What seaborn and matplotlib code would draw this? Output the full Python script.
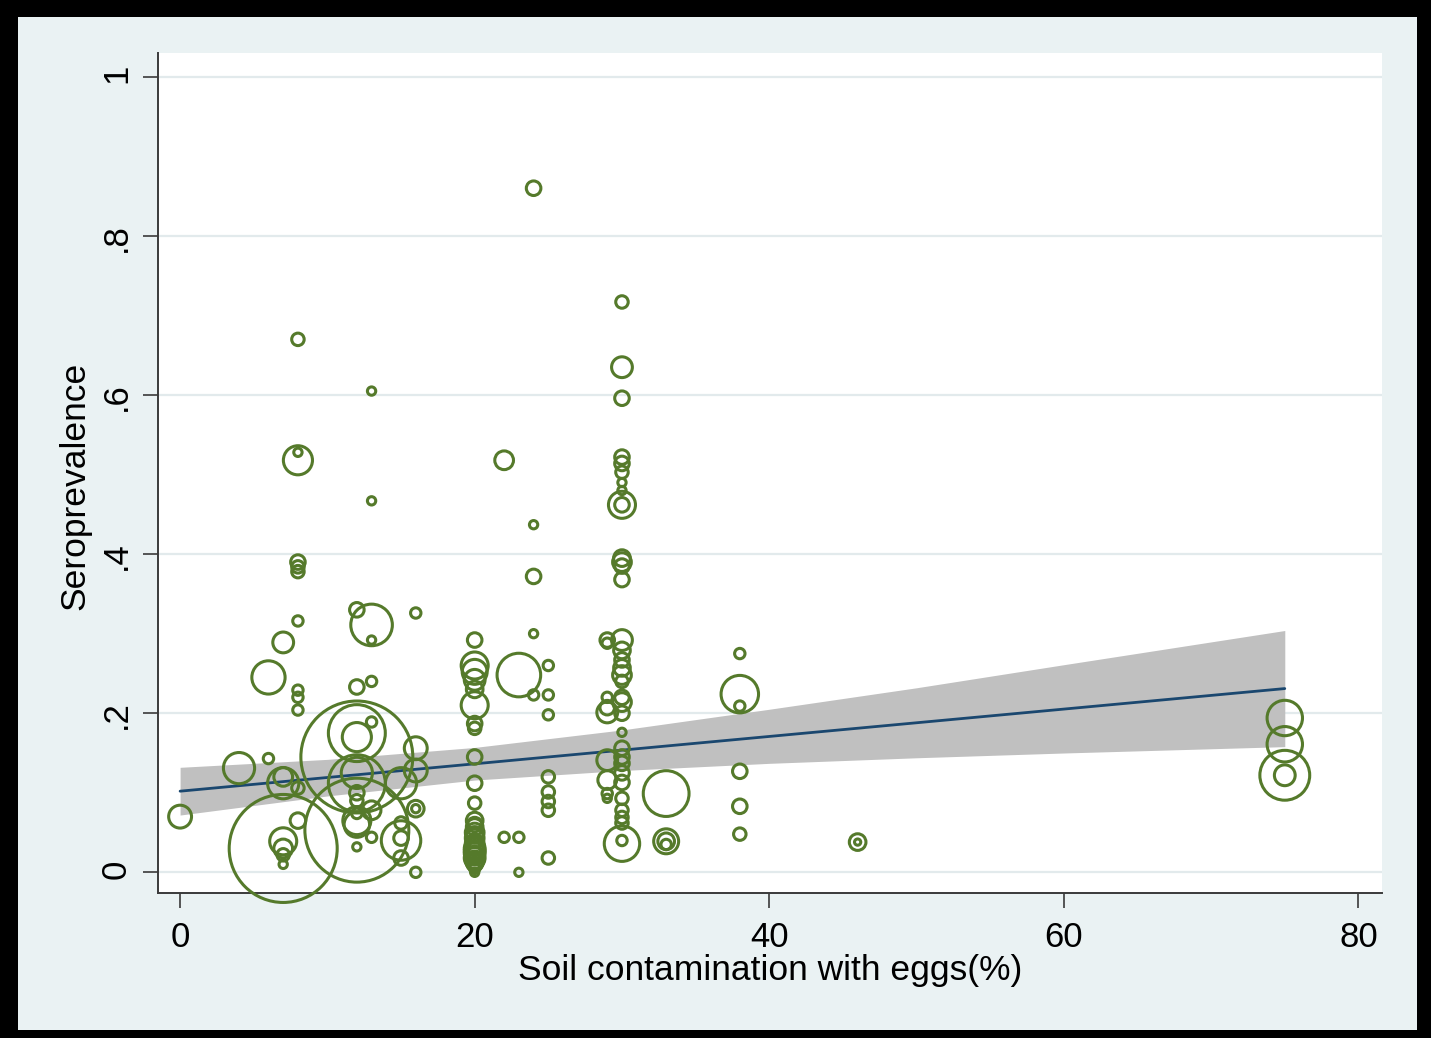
import matplotlib.pyplot as plt
import seaborn as sns
from matplotlib.patches import Rectangle

GREEN = "#557A2B"
NAVY = "#1A476F"
BAND = "#C0C0C0"
BG = "#EAF2F3"
GRID = "#E2EAEC"
AXIS = "#3A3A3A"

# one entry per village: soil contamination (%), seroprevalence, number tested (bubble weight)
soil_pct = [
    0, 4, 6, 6,
    7, 7, 7, 7, 7, 7, 7, 7,
    8, 8, 8, 8, 8, 8, 8, 8, 8, 8, 8, 8,
    12, 12, 12, 12, 12, 12, 12, 12, 12, 12, 12, 12, 12, 12,
    13, 13, 13, 13, 13, 13, 13, 13,
    15, 15, 15, 15, 15,
    16, 16, 16, 16, 16, 16,
    20, 20, 20, 20, 20, 20, 20, 20, 20, 20, 20, 20, 20, 20, 20, 20, 20, 20, 20, 20, 20, 20, 20,
    20, 20, 20, 20, 20, 20,
    22, 22, 23, 23, 23,
    24, 24, 24, 24, 24,
    25, 25, 25, 25, 25, 25, 25, 25,
    29, 29, 29, 29, 29, 29, 29, 29, 29,
    30, 30, 30, 30, 30, 30, 30, 30, 30, 30, 30, 30, 30, 30, 30, 30, 30, 30,
    30, 30, 30, 30, 30, 30, 30, 30, 30, 30, 30, 30, 30, 30, 30, 30, 30,
    33, 33, 33, 33,
    38, 38, 38, 38, 38, 38,
    46, 46,
    75, 75, 75, 75,
]
seroprev = [
    0.070, 0.131, 0.245, 0.143,
    0.289, 0.120, 0.112, 0.030, 0.039, 0.030, 0.022, 0.010,
    0.670, 0.518, 0.528, 0.390, 0.384, 0.378, 0.316, 0.229, 0.220, 0.204, 0.106, 0.065,
    0.330, 0.233, 0.175, 0.170, 0.145, 0.125, 0.112, 0.100, 0.090, 0.074, 0.065, 0.053, 0.032, 0.060,
    0.605, 0.467, 0.311, 0.292, 0.240, 0.189, 0.078, 0.044,
    0.112, 0.062, 0.040, 0.043, 0.018,
    0.326, 0.156, 0.128, 0.080, 0.080, 0.000,
    0.292, 0.260, 0.252, 0.242, 0.230, 0.210, 0.187, 0.181, 0.145, 0.112, 0.087, 0.065,
    0.057, 0.050, 0.043, 0.036, 0.030, 0.024, 0.018, 0.015, 0.010, 0.005, 0.000,
    0.060, 0.047, 0.033, 0.027, 0.021, 0.012,
    0.518, 0.044, 0.248, 0.044, 0.000,
    0.860, 0.437, 0.372, 0.300, 0.223,
    0.260, 0.223, 0.198, 0.120, 0.101, 0.089, 0.078, 0.018,
    0.292, 0.288, 0.220, 0.207, 0.201, 0.141, 0.116, 0.099, 0.093,
    0.717, 0.635, 0.596, 0.522, 0.514, 0.503, 0.490, 0.480, 0.462, 0.462, 0.395, 0.390,
    0.385, 0.368, 0.292, 0.279, 0.267, 0.257,
    0.248, 0.240, 0.220, 0.214, 0.200, 0.176, 0.156, 0.145, 0.137, 0.125, 0.113, 0.093,
    0.078, 0.069, 0.062, 0.036, 0.040,
    0.099, 0.039, 0.039, 0.035,
    0.275, 0.224, 0.209, 0.127, 0.083, 0.048,
    0.038, 0.038,
    0.194, 0.161, 0.122, 0.122,
]
n_tested = [
    242, 450, 512, 50,
    200, 162, 450, 5400, 338, 162, 72, 32,
    72, 392, 32, 98, 72, 72, 50, 50, 50, 50, 72, 112,
    98, 98, 1500, 392, 5800, 450, 1500, 98, 72, 50, 364, 5000, 32, 300,
    32, 32, 800, 32, 50, 50, 162, 50,
    450, 72, 720, 98, 98,
    50, 242, 242, 128, 32, 50,
    98, 338, 288, 200, 128, 338, 98, 72, 98, 98, 72, 128,
    128, 162, 162, 162, 200, 200, 200, 162, 98, 50, 32,
    98, 128, 162, 200, 162, 128,
    162, 50, 880, 50, 32,
    98, 32, 98, 32, 50,
    50, 50, 50, 72, 72, 72, 72, 72,
    98, 50, 50, 98, 200, 200, 162, 50, 32,
    72, 200, 98, 98, 98, 72, 32, 32, 338, 98, 128, 162,
    98, 98, 200, 128, 98, 128,
    162, 72, 98, 162, 98, 32, 98, 98, 98, 98, 98, 72,
    72, 72, 72, 580, 50,
    970, 288, 128, 50,
    50, 650, 50, 98, 98, 72,
    128, 18,
    580, 580, 1150, 200,
]

# linear fit with 95% CI
fit_x = [0, 75]
fit_y = [0.102, 0.231]
ci_x = [0, 10, 20, 30, 40, 50, 60, 75]
ci_low = [0.072, 0.096, 0.116, 0.128, 0.137, 0.144, 0.150, 0.158]
ci_high = [0.132, 0.142, 0.157, 0.179, 0.205, 0.232, 0.261, 0.304]

x_ticks = [0, 20, 40, 60, 80]
y_ticks = [0, 0.2, 0.4, 0.6, 0.8, 1.0]
y_tick_labels = ["0", ".2", ".4", ".6", ".8", "1"]

sns.set_style("white")
plt.rcParams["font.family"] = ["Liberation Sans", "DejaVu Sans"]

W, H = 1431, 1038
fig = plt.figure(figsize=(W / 100, H / 100), dpi=100, facecolor="black")
fig.add_artist(
    Rectangle((18 / W, 1 - 1030 / H), (1417 - 18) / W, (1030 - 17) / H,
              transform=fig.transFigure, facecolor=BG, edgecolor="none", zorder=-10)
)
ax = fig.add_axes([158 / W, 1 - 893 / H, 1224 / W, 840 / H])
ax.set_zorder(1)
ax.set_facecolor("white")

ax.fill_between(ci_x, ci_low, ci_high, color=BAND, linewidth=0, zorder=2)
sns.lineplot(x=fit_x, y=fit_y, ax=ax, color=NAVY, linewidth=2.0, zorder=3)

# bubble area proportional to the number tested
n_min, n_max = min(n_tested), max(n_tested)
sns.scatterplot(
    x=soil_pct, y=seroprev, size=n_tested, sizes=(n_min * 1.12, n_max * 1.12),
    size_norm=(n_min, n_max), ax=ax, legend=False,
    facecolor="none", edgecolor=GREEN, linewidth=2.2, zorder=4,
)
for coll in ax.collections[1:]:
    coll.set_clip_on(False)

ax.set_xlim(-1.5, 81.6)
ax.set_ylim(-0.026, 1.030)
ax.set_xticks(x_ticks)
ax.set_yticks(y_ticks, y_tick_labels)
ax.yaxis.grid(True, color=GRID, linewidth=1.6, zorder=1)
ax.xaxis.grid(False)
ax.set_axisbelow(True)

for side in ["top", "right"]:
    ax.spines[side].set_visible(False)
for side in ["left", "bottom"]:
    ax.spines[side].set_color(AXIS)
    ax.spines[side].set_linewidth(1.4)

ax.tick_params(axis="both", direction="out", length=11, width=1.2, color=AXIS,
               labelsize=25, labelcolor="black", pad=9, left=True, bottom=True)
ax.tick_params(axis="y", labelrotation=90, pad=7)

ax.set_xlabel("Soil contamination with eggs(%)", fontsize=25.5, color="black")
ax.set_ylabel("Seroprevalence", fontsize=25.5, color="black")
ax.xaxis.set_label_coords(0.5, (893 - 954) / 840)
ax.yaxis.set_label_coords((91 - 158) / 1224, (893 - 486) / 840)

fig.savefig("out.png", dpi=100, facecolor=fig.get_facecolor())
